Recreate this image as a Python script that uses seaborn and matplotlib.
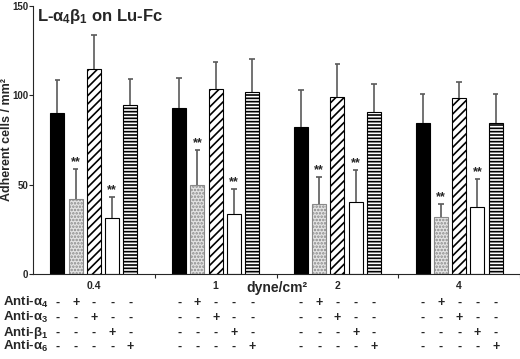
import numpy as np
import pandas as pd
import matplotlib
matplotlib.use("Agg")
import matplotlib.pyplot as plt
import matplotlib.transforms as mtransforms
import seaborn as sns

# ---------------------------------------------------------------- data
shear = ["0.4", "1", "2", "4"]
treatments = ["Control", "Anti-a4", "Anti-a3", "Anti-b1", "Anti-a6"]

control = [90.0, 93.0, 82.0, 84.5]
control_err = [18.6, 16.7, 21.0, 16.2]
anti_a4 = [42.0, 50.0, 39.0, 32.0]
anti_a4_err = [16.6, 19.3, 15.3, 7.2]
anti_a3 = [114.7, 103.5, 99.0, 98.5]
anti_a3_err = [19.0, 15.1, 18.5, 8.9]
anti_b1 = [31.5, 33.7, 40.3, 37.5]
anti_b1_err = [11.6, 13.9, 18.1, 15.7]
anti_a6 = [94.6, 101.8, 90.7, 84.5]
anti_a6_err = [14.5, 18.5, 15.6, 16.2]

significant = ["Anti-a4", "Anti-b1"]

row_labels = [r"Anti-$\alpha_4$", r"Anti-$\alpha_3$", r"Anti-$\beta_1$", r"Anti-$\alpha_6$"]
row_keys = ["Anti-a4", "Anti-a3", "Anti-b1", "Anti-a6"]

# ---------------------------------------------------------------- style
sns.set_style("ticks")
plt.rcParams["font.family"] = ["Liberation Sans", "DejaVu Sans"]
plt.rcParams["font.weight"] = "bold"
plt.rcParams["mathtext.fontset"] = "custom"
plt.rcParams["mathtext.rm"] = "Liberation Sans:bold"
plt.rcParams["mathtext.it"] = "Liberation Sans:bold"
plt.rcParams["mathtext.bf"] = "Liberation Sans:bold"
plt.rcParams["hatch.linewidth"] = 1.2

values = {"Control": control, "Anti-a4": anti_a4, "Anti-a3": anti_a3,
          "Anti-b1": anti_b1, "Anti-a6": anti_a6}
errors = {"Control": control_err, "Anti-a4": anti_a4_err, "Anti-a3": anti_a3_err,
          "Anti-b1": anti_b1_err, "Anti-a6": anti_a6_err}

df = pd.DataFrame([{"shear": s, "treatment": t, "cells": values[t][i]}
                   for t in treatments for i, s in enumerate(shear)])

faces = {"Control": "black", "Anti-a4": "#e4e4e4", "Anti-a3": "white",
         "Anti-b1": "white", "Anti-a6": "white"}
hatches = {"Control": None, "Anti-a4": ".....", "Anti-a3": "////",
           "Anti-b1": None, "Anti-a6": "-----"}
edges = {"Control": "black", "Anti-a4": "#8a8a8a", "Anti-a3": "black",
         "Anti-b1": "black", "Anti-a6": "black"}

fig = plt.figure(figsize=(5.2, 3.59), dpi=100)
ax = fig.add_axes([0.0635, 0.237, 0.9365, 0.7465])

sns.barplot(data=df, x="shear", y="cells", hue="treatment", order=shear,
            hue_order=treatments, palette=faces, errorbar=None,
            width=0.75, gap=0.23, edgecolor="black", linewidth=0.8,
            legend=False, ax=ax)

# hatches, upward error bars and significance stars
for t, cont in zip(treatments, ax.containers):
    for i, bar in enumerate(cont):
        bar.set_facecolor(faces[t])
        bar.set_edgecolor(edges[t])
        if hatches[t]:
            bar.set_hatch(hatches[t])
        xc = bar.get_x() + bar.get_width() / 2
        top = bar.get_height()
        err = errors[t][i]
        ax.vlines(xc, top, top + err, color="#5a5a5a", lw=1.2, zorder=1)
        ax.hlines(top + err, xc - 0.022, xc + 0.022, color="#5a5a5a", lw=1.2, zorder=1)
        if t in significant:
            ax.text(xc, top + err + 0.4, "**", ha="center", va="bottom",
                    fontsize=9, fontweight="bold")

ax.set_ylim(0, 150)
ax.set_xlim(-0.5, 3.5)
ax.set_yticks([0, 50, 100, 150])
ax.set_xticks(range(len(shear)))
ax.set_xticklabels(shear)
ax.set_xticks([0.5, 1.5, 2.5, 3.5], minor=True)
ax.tick_params(axis="x", which="major", length=0, labelsize=7.5, pad=5)
ax.tick_params(axis="x", which="minor", length=3, width=0.8)
ax.tick_params(axis="y", length=3, width=0.8, labelsize=7, pad=0.5)
for lab in ax.get_xticklabels() + ax.get_yticklabels():
    lab.set_fontweight("bold")
sns.despine(ax=ax)
ax.spines["left"].set_linewidth(0.8)
ax.spines["bottom"].set_linewidth(0.8)

ax.set_ylabel("Adherent cells / mm²", fontsize=9, fontweight="bold", va="center")
ax.yaxis.set_label_coords(-0.054, 0.5)
ax.set_xlabel("dyne/cm²", fontsize=10, fontweight="bold", va="center")
ax.xaxis.set_label_coords(0.5, -0.052)

ax.text(0.008, 0.995, r"L-$\alpha_4\beta_1$ on Lu-Fc", transform=ax.transAxes,
        ha="left", va="top", fontsize=12, fontweight="bold")

# treatment table under the axis
trans = mtransforms.blended_transform_factory(ax.transData, ax.transAxes)
row_y = [-0.107, -0.164, -0.219, -0.272]
for label, key, y in zip(row_labels, row_keys, row_y):
    fig.text(0.006, ax.transAxes.transform((0, y))[1] / fig.bbox.height, label,
             ha="left", va="center", fontsize=9.5, fontweight="bold")
    for t, cont in zip(treatments, ax.containers):
        sign = "+" if t == key else "-"
        for bar in cont:
            xc = bar.get_x() + bar.get_width() / 2
            ax.text(xc, y, sign, transform=trans, ha="center", va="center",
                    fontsize=9, fontweight="bold", clip_on=False)

fig.savefig("out.png", dpi=100)
